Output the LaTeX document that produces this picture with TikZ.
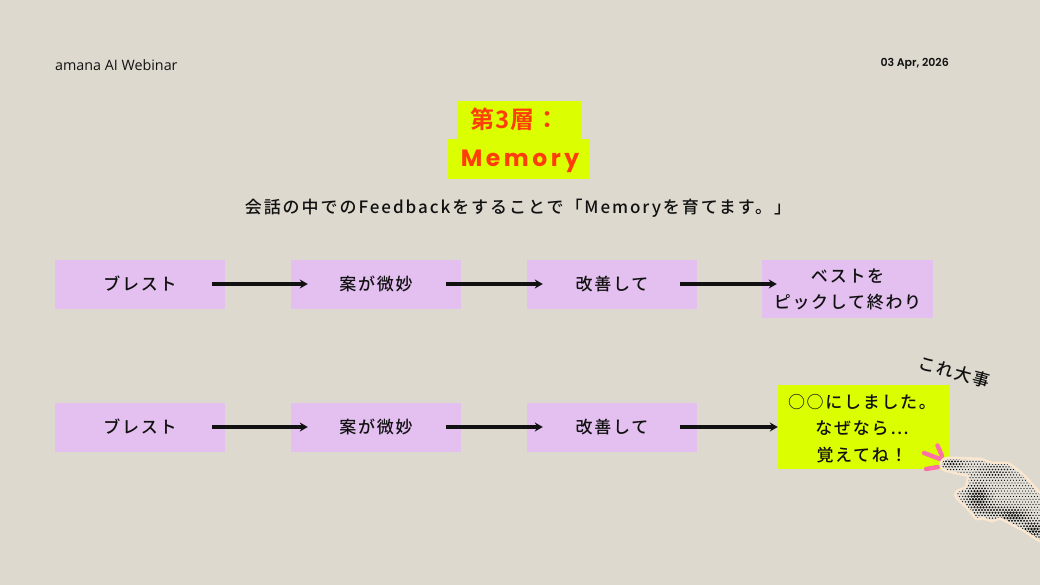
\documentclass[tikz,border=0pt]{standalone}
\usepackage{fontspec}
\usetikzlibrary{arrows.meta}
\newfontfamily\jpf[LetterSpace=10]{Noto Sans CJK JP Medium}
\newfontfamily\jpm[LetterSpace=11.5]{Noto Sans CJK JP Medium}
\newfontfamily\jpb[LetterSpace=4]{Noto Sans CJK JP Bold}
\newfontfamily\popb[LetterSpace=15]{Poppins Bold}
\newfontfamily\popd{Poppins SemiBold}
\newfontfamily\opn{Open Sans}
\definecolor{bgc}{HTML}{DDD9CF}
\definecolor{lime}{HTML}{DBFF00}
\definecolor{lilac}{HTML}{E3C0F0}
\definecolor{redor}{HTML}{FF3D0A}
\definecolor{pinkc}{HTML}{FF70A8}
\definecolor{creamc}{HTML}{FBE7D0}
\definecolor{ink}{HTML}{111111}
\tikzset{
  x=1pt,y=-1pt,
  lilacbox/.style={fill=lilac,inner sep=0pt,minimum width=170pt,minimum height=49pt,font=\jpf\fontsize{17}{26}\selectfont,text=ink,align=center},
  limebox/.style={fill=lime,inner sep=0pt},
  flow/.style={-{Stealth[length=8pt,width=9pt]},line width=3.2pt,color=ink},
  spark/.style={pinkc,line width=4.4pt,line cap=round},
}
\begin{document}
\begin{tikzpicture}
\useasboundingbox (0,0) rectangle (1040,585);
\fill[bgc] (0,0) rectangle (1040,585);
\node[anchor=west,inner sep=0pt,text=ink,font=\opn\fontsize{14.3}{16}\selectfont] (brand) at (55,65) {amana AI Webinar};
\node[anchor=east,inner sep=0pt,text=ink,font=\popd\fontsize{11}{12}\selectfont] (date) at (949,63.5) {03 Apr, 2026};
\node[limebox,minimum width=124pt,minimum height=38pt] (t1) at (519,120) {};
\node[limebox,minimum width=142pt,minimum height=40pt] (t2) at (519,159) {};
\node[inner sep=0pt,text=redor,font=\jpb\fontsize{24}{28}\selectfont] (t1text) at (515,119) {第3層：};
\node[inner sep=0pt,text=redor,font=\popb\fontsize{23.5}{30}\selectfont] (t2text) at (520,161.5) {Memory};
\node[inner sep=0pt,text=ink,font=\jpm\fontsize{17}{20}\selectfont] (sub) at (518,208) {会話の中でのFeedbackをすることで「Memoryを育てます。」};
% row 1
\node[lilacbox] (a1) at (140,284) {\raisebox{-2pt}{ブレスト}};
\node[lilacbox] (a2) at (376,284) {\raisebox{-2pt}{案が微妙}};
\node[lilacbox] (a3) at (612,284) {\raisebox{-2pt}{改善して}};
\node[lilacbox,minimum width=171pt,minimum height=58pt] (a4) at (847.5,289) {ベストを\\ピックして終わり};
\draw[flow,shorten <=-13pt,shorten >=-17pt] (a1.east) -- (a1.east -| a2.west);
\draw[flow,shorten <=-15pt,shorten >=-16pt] (a2.east) -- (a2.east -| a3.west);
\draw[flow,shorten <=-17pt,shorten >=-15pt] (a3.east) -- (a3.east -| a4.west);
% row 2
\node[lilacbox] (b1) at (140,427) {\raisebox{-2pt}{ブレスト}};
\node[lilacbox] (b2) at (376,427) {\raisebox{-2pt}{案が微妙}};
\node[lilacbox] (b3) at (612,427) {\raisebox{-2pt}{改善して}};
\node[limebox,minimum width=171pt,minimum height=84pt] (b4) at (863.5,427) {};
\node[inner sep=0pt,font=\jpf\fontsize{17}{26.5}\selectfont,text=ink,align=center] (b4text) at (862,428.5) {○○にしました。\\なぜなら…\\覚えてね！};
\draw[flow,shorten <=-13pt,shorten >=-17pt] (b1.east) -- (b1.east -| b2.west);
\draw[flow,shorten <=-15pt,shorten >=-16pt] (b2.east) -- (b2.east -| b3.west);
\draw[flow,shorten <=-17pt,shorten >=0pt] (b3.east) -- (b3.east -| b4.west);
\node[inner sep=0pt,rotate=-15,text=ink,font=\jpf\fontsize{17}{20}\selectfont] (note) at (954,372) {これ大事};
% sparks
\draw[spark] (924,453) -- (940,459);
\draw[spark] (937.5,445.5) -- (942,456);
\draw[spark] (926,469) -- (938,467);
% hand
\def\handpath{(942,463) .. controls (944,459) and (948,459) .. (952,459) -- (980,460) .. controls (985,461) and (988,464) .. (992,464) -- (1007,464) .. controls (1014,468) and (1020,473) .. (1025,478) -- (1040,495) -- (1040,540) .. controls (1035,537) and (1030,533) .. (1025,530) -- (1010,522) -- (1000,517) -- (992,520) -- (983,517) -- (977,518) -- (968,507) -- (958,498) .. controls (956,495) and (956,493) .. (958,492) -- (967,488) -- (970,475) -- (948,470) .. controls (944,469) and (941,467) .. (942,463) -- cycle}
\draw[creamc,line width=5pt,line join=round,fill=creamc] \handpath;
\begin{scope}
\clip \handpath;
\fill[bgc!75!white] (930,450) rectangle (1040,545);
\foreach \i in {0,...,34}{
  \foreach \j in {0,...,32}{
    \pgfmathsetmacro{\px}{940+\i*3+mod(\j,2)*1.5}
    \pgfmathsetmacro{\py}{456+\j*2.7}
    \pgfmathsetmacro{\da}{exp(-((\px-978)^2/120+(\py-497)^2/110))}
    \pgfmathsetmacro{\db}{exp(-((\px-952)^2/150+(\py-463)^2/30))}
    \pgfmathsetmacro{\dc}{exp(-((\px-1014)^2/220+(\py-516)^2/50))}
    \pgfmathsetmacro{\dd}{exp(-((\px-1034)^2/150+(\py-530)^2/60))}
    \pgfmathsetmacro{\de}{exp(-((\px-994)^2/260+(\py-472)^2/50))}
    \pgfmathsetmacro{\df}{exp(-((\px-990)^2/300+(\py-510)^2/40))}
    \pgfmathsetmacro{\rr}{min(1.4,0.62+0.9*\da+0.55*\db+0.8*\dc+0.8*\dd+0.4*\de+0.45*\df)}
    \fill[ink] (\px,\py) circle[radius=\rr pt];
  }
}
\end{scope}
\end{tikzpicture}
\end{document}
